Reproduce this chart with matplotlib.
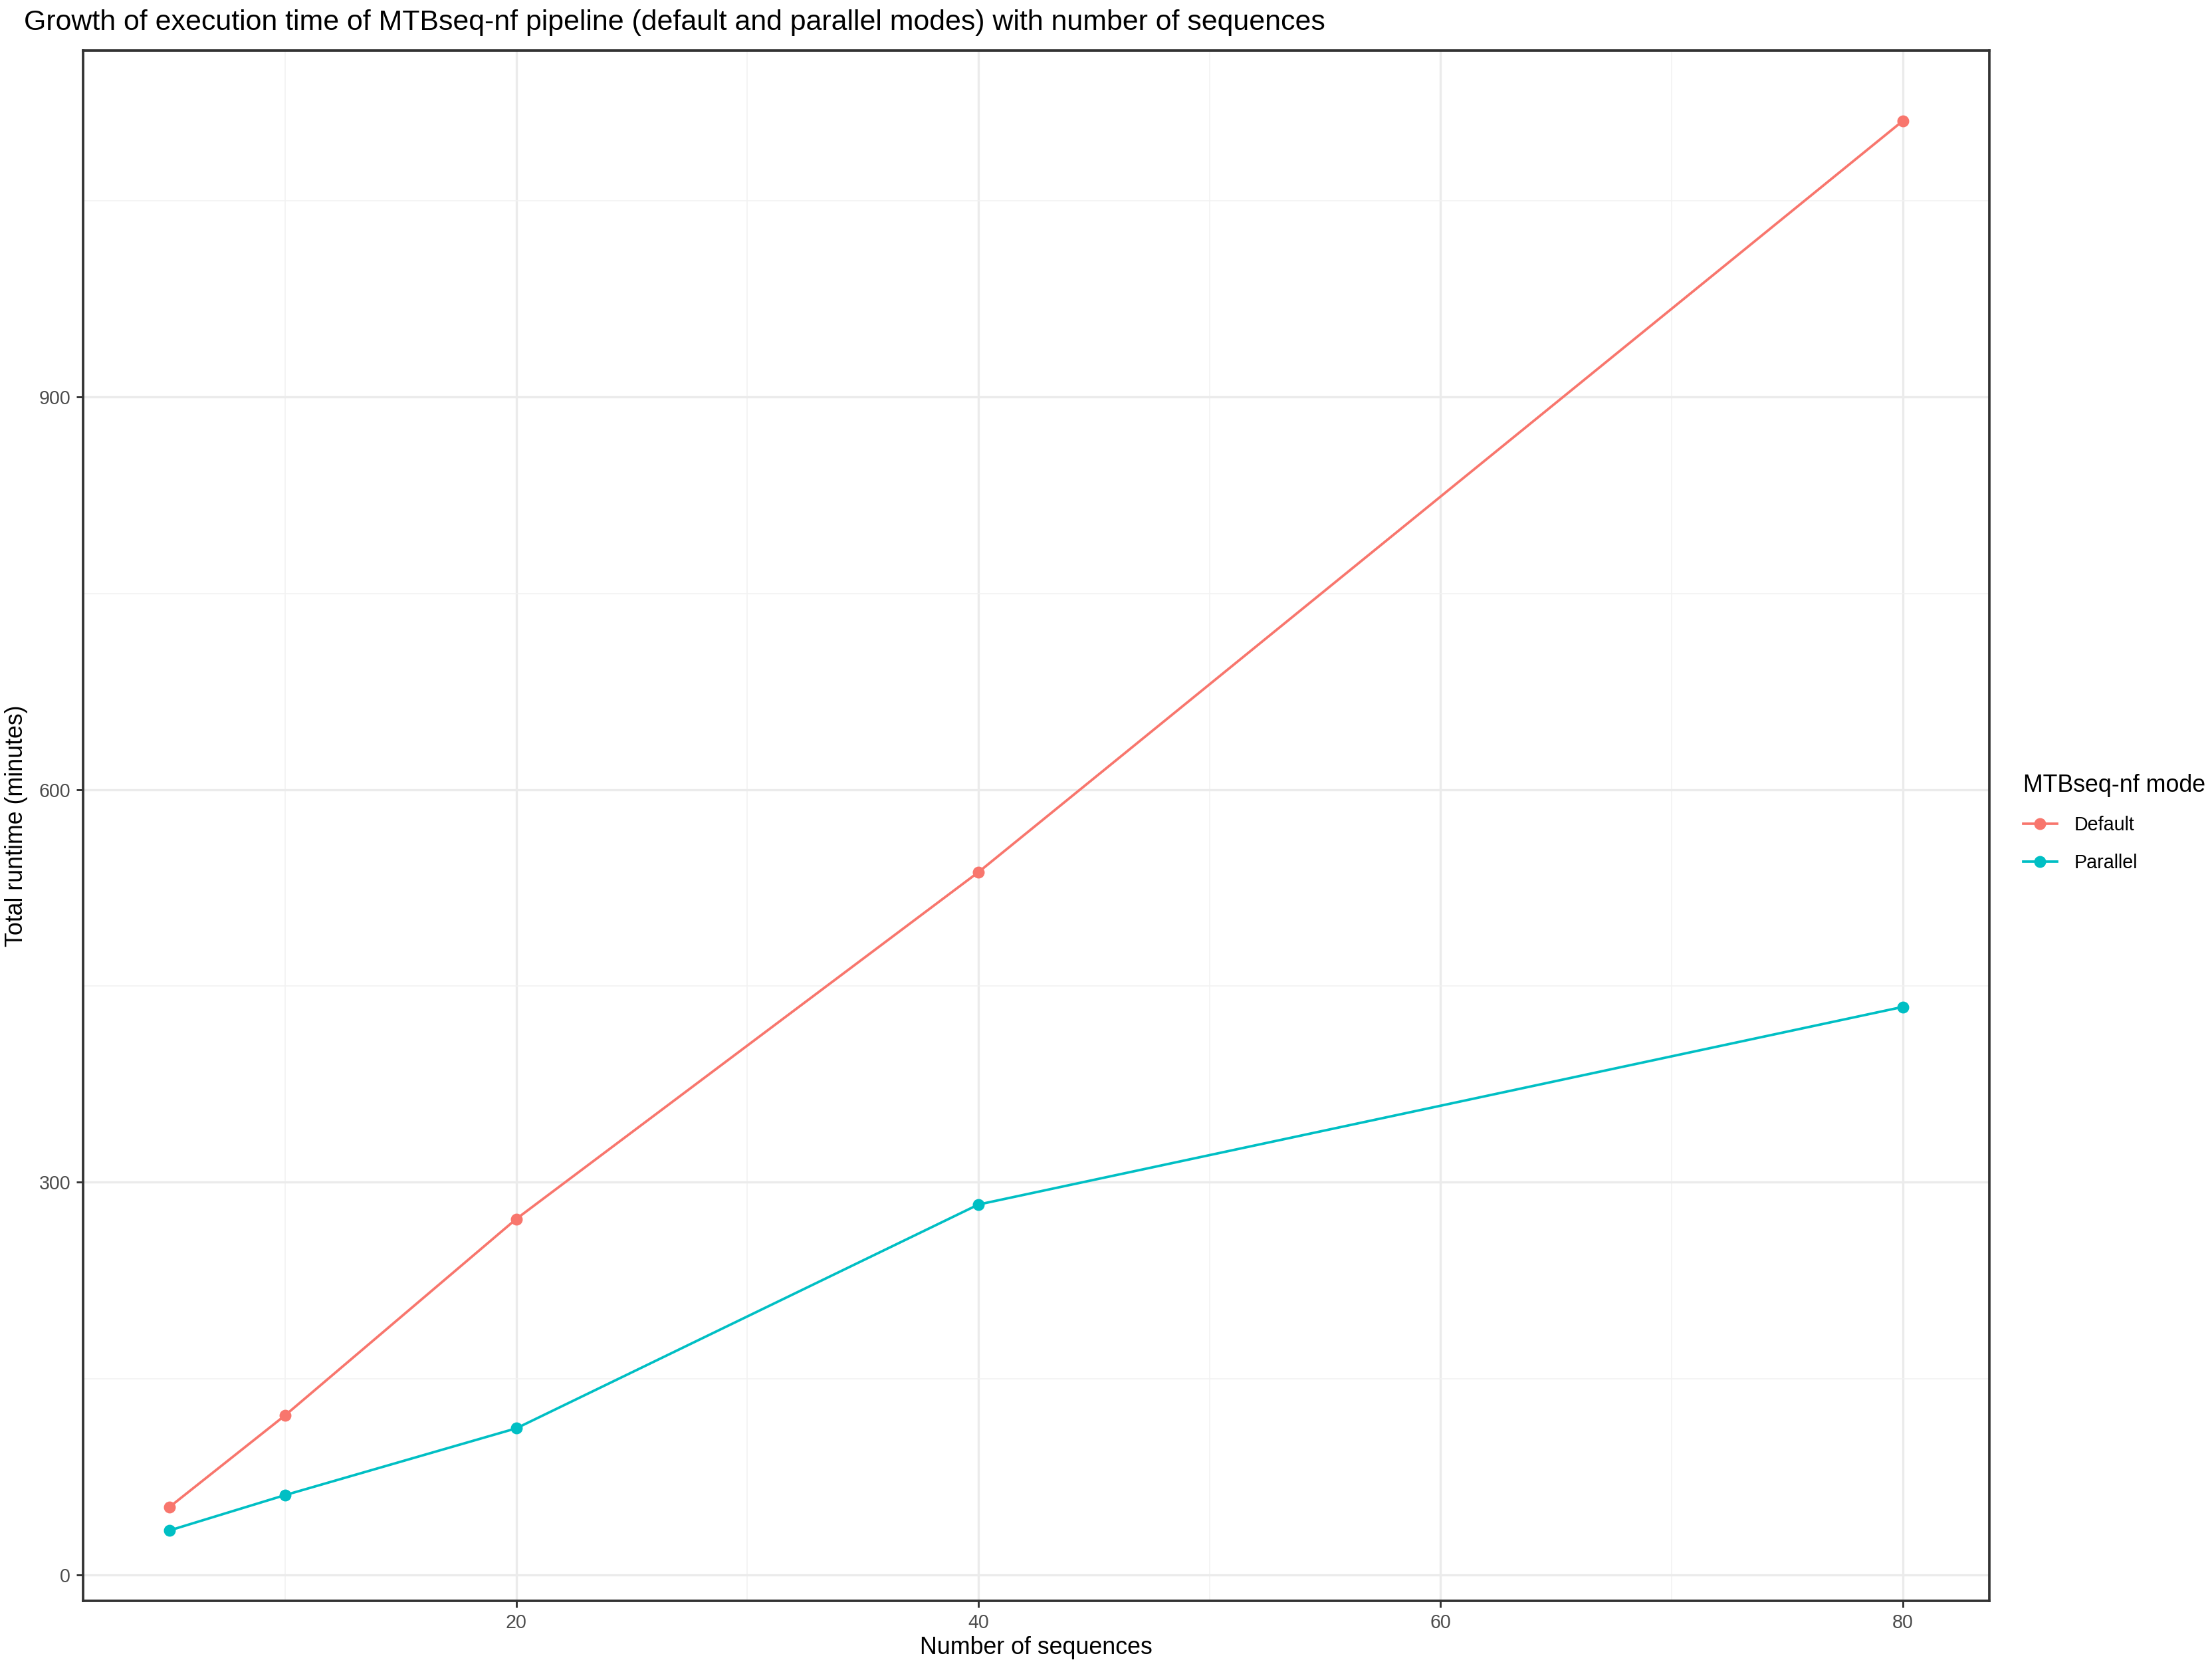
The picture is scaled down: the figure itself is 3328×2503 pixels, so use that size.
import matplotlib
matplotlib.use("Agg")
import matplotlib.pyplot as plt

plt.rcParams['font.family'] = ['Liberation Sans', 'DejaVu Sans']

# data
n_seq = [5, 10, 20, 40, 80]
default_min = [52, 122, 272, 537, 1111]
parallel_min = [34, 61, 112, 283, 434]
modes = ['Default', 'Parallel']
colors = ['#F8766D', '#00BFC4']
xticks = [20, 40, 60, 80]
yticks = [0, 300, 600, 900]
xminor = [10, 30, 50, 70]
yminor = [150, 450, 750, 1050]

W, H = 3329, 2503
dpi = 300
k = 0.78  # text scale
fig = plt.figure(figsize=(W / dpi, H / dpi), dpi=dpi)
ax = fig.add_axes([125 / W, 1 - 2408 / H, (2993 - 125) / W, (2408 - 76) / H])

for ys, lab, c in zip([default_min, parallel_min], modes, colors):
    ax.plot(n_seq, ys, color=c, lw=0.9, marker='o', ms=3.3, label=lab,
            zorder=3)

lo, hi = min(n_seq), max(n_seq)
ax.set_xlim(lo - 0.05 * (hi - lo), hi + 0.05 * (hi - lo))
ymin = min(parallel_min)
ymax = max(default_min)
ax.set_ylim(ymin - 0.05 * (ymax - ymin), ymax + 0.05 * (ymax - ymin))

ax.set_xticks(xticks)
ax.set_yticks(yticks)
ax.set_xticks(xminor, minor=True)
ax.set_yticks(yminor, minor=True)
ax.grid(which='major', color='#EBEBEB', lw=0.8, zorder=0)
ax.grid(which='minor', color='#F2F2F2', lw=0.4, zorder=0)
ax.set_axisbelow(True)
ax.tick_params(which='major', length=2.5, width=0.7, color='#333333',
               labelsize=8.8 * k, labelcolor='#4D4D4D', pad=2)
ax.tick_params(which='minor', length=0)
for s in ax.spines.values():
    s.set_color('#333333')
    s.set_linewidth(0.9)

ax.set_xlabel('Number of sequences', fontsize=11 * k, labelpad=1.5)
ax.set_ylabel('Total runtime (minutes)', fontsize=11 * k, labelpad=4)
fig.text(36 / W, 1 - 14 / H,
         'Growth of execution time of MTBseq-nf pipeline (default and parallel modes) with number of sequences',
         fontsize=13.2 * k, ha='left', va='top')

leg = ax.legend(loc='center left', bbox_to_anchor=(3018 / W, 1 - 1238 / H),
                bbox_transform=fig.transFigure, frameon=False,
                title='MTBseq-nf mode', fontsize=8.8 * k, title_fontsize=11 * k,
                handlelength=1.8, labelspacing=1.0, handletextpad=0.9)
leg._legend_box.align = 'left'

fig.savefig('out.png', dpi=dpi)
